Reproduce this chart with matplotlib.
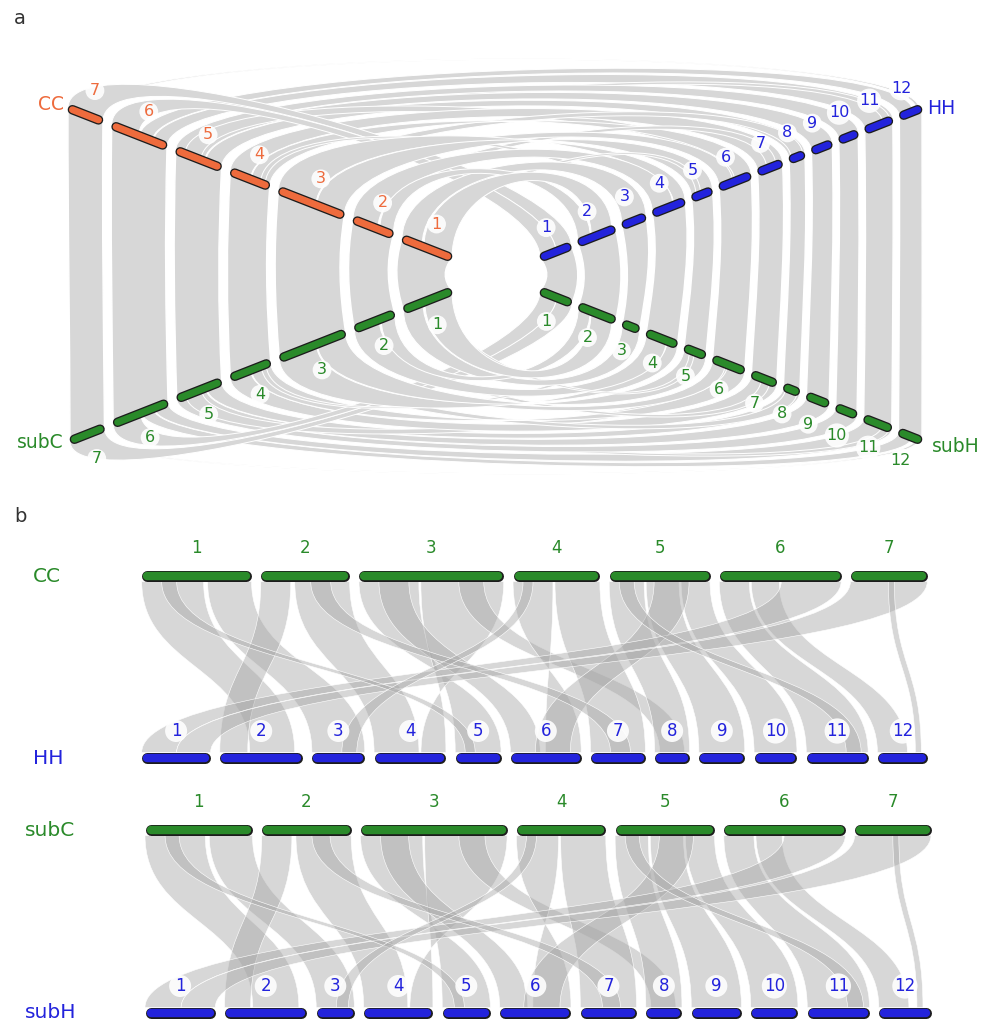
import numpy as np
import matplotlib.pyplot as plt
from matplotlib.path import Path
from matplotlib.patches import PathPatch

# chromosome sizes (Mb)
cc_len = [110, 89, 145, 87, 101, 122, 77]
hh_len = [69, 83, 53, 72, 46, 71, 55, 35, 46, 43, 62, 50]
subc_len = [107, 89, 146, 89, 99, 121, 76]
subh_len = [70, 82, 38, 69, 48, 71, 56, 36, 50, 47, 62, 52]

cc_names = ["1", "2", "3", "4", "5", "6", "7"]
hh_names = ["1", "2", "3", "4", "5", "6", "7", "8", "9", "10", "11", "12"]

# syntenic blocks: (chr_a, start, end, chr_b, start, end), Mb
cc_hh_links = [
    (1, 0, 62, 2, 30, 75),
    (1, 66, 110, 3, 0, 53),
    (2, 0, 30, 2, 0, 28),
    (2, 34, 89, 4, 0, 45),
    (3, 0, 60, 5, 46, 0),
    (3, 62, 145, 4, 72, 47),
    (3, 20, 50, 6, 0, 30),
    (3, 100, 125, 8, 5, 30),
    (4, 0, 40, 6, 71, 35),
    (4, 42, 87, 7, 0, 55),
    (5, 0, 35, 8, 0, 35),
    (5, 37, 70, 9, 0, 46),
    (5, 72, 101, 10, 0, 43),
    (5, 45, 80, 6, 25, 60),
    (6, 0, 30, 11, 0, 62),
    (6, 32, 60, 12, 0, 30),
    (6, 62, 122, 1, 0, 35),
    (7, 0, 77, 1, 35, 69),
    (2, 50, 70, 7, 20, 40),
    (5, 10, 25, 11, 40, 55),
    (1, 20, 35, 5, 10, 20),
    (4, 10, 20, 3, 30, 45),
    (7, 38, 44, 12, 38, 44),
]
subc_subh_links = [
    (1, 0, 60, 2, 28, 74),
    (1, 64, 107, 3, 0, 38),
    (2, 0, 30, 2, 0, 26),
    (2, 34, 89, 4, 0, 44),
    (3, 0, 62, 5, 48, 0),
    (3, 64, 146, 4, 69, 46),
    (3, 20, 48, 6, 0, 28),
    (3, 98, 124, 8, 5, 30),
    (4, 0, 42, 6, 71, 33),
    (4, 44, 89, 7, 0, 56),
    (5, 0, 33, 8, 0, 36),
    (5, 35, 68, 9, 0, 50),
    (5, 70, 99, 10, 0, 47),
    (5, 44, 78, 6, 24, 60),
    (6, 0, 30, 11, 0, 62),
    (6, 32, 58, 12, 0, 30),
    (6, 60, 121, 1, 0, 36),
    (7, 0, 76, 1, 36, 70),
    (2, 50, 68, 7, 22, 40),
    (5, 10, 24, 11, 40, 56),
    (1, 20, 34, 5, 12, 22),
    (4, 10, 20, 3, 20, 32),
    (7, 38, 44, 12, 38, 44),
]

ORANGE = "#ee6b3d"
GREEN = "#2a8a2a"
BLUE = "#2323dc"
GREY_A = "#d7d7d7"
GREY_B = (0.66, 0.66, 0.66, 0.45)

M, C, L, CL = Path.MOVETO, Path.CURVE4, Path.LINETO, Path.CLOSEPOLY

fig = plt.figure(figsize=(9.87, 10.26), dpi=100)
ax = fig.add_axes([0, 0, 1, 1])
ax.set_xlim(0, 987)
ax.set_ylim(1026, 0)
ax.axis("off")


def add_path(verts, codes, fc, ec, lw, z):
    ax.add_patch(PathPatch(Path(np.array(verts, float), codes), facecolor=fc,
                           edgecolor=ec, lw=lw, zorder=z))


def draw_bar(P, Q, color, w):
    P = np.array(P, float); Q = np.array(Q, float)
    u = (Q - P) / np.linalg.norm(Q - P)
    P2, Q2 = P + u * w / 2, Q - u * w / 2
    ax.plot([P2[0], Q2[0]], [P2[1], Q2[1]], color="#1c1c1c", lw=w * 0.72,
            solid_capstyle="round", zorder=5)
    ax.plot([P2[0], Q2[0]], [P2[1], Q2[1]], color=color, lw=(w - 2.6) * 0.72,
            solid_capstyle="round", zorder=6)


def num_label(x, y, s, color, size):
    ax.text(x, y, s, color=color, fontsize=size, ha="center", va="center", zorder=8,
            bbox=dict(boxstyle="circle,pad=0.12", fc="white", ec="none", alpha=0.9))


# ---------------- panel a ----------------
A_SCALE = 0.487


def diag(lengths, p_in, p_out):
    p_in = np.array(p_in, float); p_out = np.array(p_out, float)
    full = np.linalg.norm(p_out - p_in)
    u = (p_out - p_in) / full
    gap = (full - A_SCALE * sum(lengths)) / (len(lengths) - 1)
    offs = np.concatenate([[0], np.cumsum(np.array(lengths) * A_SCALE + gap)[:-1]])

    def pos(c, mb):
        return p_in + u * (offs[c - 1] + mb * A_SCALE)
    return pos, u


cc_pos, cc_u = diag(cc_len, (452, 258), (68, 108))
subc_pos, subc_u = diag(subc_len, (452, 291), (70, 441))
hh_pos, hh_u = diag(hh_len, (540, 258), (922, 108))
subh_pos, subh_u = diag(subh_len, (540, 291), (922, 441))


def side_band(pt, pbm, c, lt, lb, side):
    T1, T2, B1, B2 = pt(c, 0), pt(c, lt), pbm(c, 0), pbm(c, lb)

    def ctl(P, Q):
        d = Q[1] - P[1]
        b = side * 10 * (1 - d / 340)
        return P + np.array([b, 0.35 * d]), Q + np.array([b, -0.35 * d])
    t1, b1 = ctl(T1, B1)
    t2, b2 = ctl(T2, B2)
    add_path([T1, t1, b1, B1, B2, b2, t2, T2, T1], [M, C, C, C, L, C, C, C, CL],
             GREY_A, "white", 1.0, 1)


def arc_ribbon(pa, pb, link, sign, h_in, h_out):
    ca, s1, e1, cb, s2, e2 = link
    A1, A2, B1, B2 = pa(ca, s1), pa(ca, e1), pb(cb, s2), pb(cb, e2)

    def lift(P, Q):
        f = np.clip((abs(Q[0] - P[0]) - 90) / 760, 0, 1)
        off = np.array([0.0, sign * (h_in + (h_out - h_in) * f)])
        return P + off, Q + off
    a1, b1 = lift(A1, B1)
    a2, b2 = lift(A2, B2)
    add_path([A1, a1, b1, B1, B2, b2, a2, A2, A1], [M, C, C, C, L, C, C, C, CL],
             GREY_A, "white", 0.7, 2)


def span(pa, pb, lk):
    return abs(pb(lk[3], lk[4])[0] - pa(lk[0], lk[1])[0])


for i in range(len(cc_len)):
    side_band(cc_pos, subc_pos, i + 1, cc_len[i], subc_len[i], -1)
for i in range(len(hh_len)):
    side_band(hh_pos, subh_pos, i + 1, hh_len[i], subh_len[i], 1)
# widest arcs first so the nested ones sit on top
for lk in sorted(cc_hh_links, key=lambda k: -span(cc_pos, hh_pos, k)):
    arc_ribbon(cc_pos, hh_pos, lk, -1, 90, 70)
for lk in sorted(subc_subh_links, key=lambda k: -span(subc_pos, subh_pos, k)):
    arc_ribbon(subc_pos, subh_pos, lk, 1, 95, 48)


def diag_chroms(pos, u, lengths, color, lab_color, up):
    perp = np.array([-u[1], u[0]])
    if (perp[1] < 0) != up:
        perp = -perp
    for i, ln in enumerate(lengths):
        P, Q = pos(i + 1, 0), pos(i + 1, ln)
        draw_bar(P, Q, color, 9.5)
        mid = (P + Q) / 2 + perp * 26
        num_label(mid[0], mid[1], hh_names[i], lab_color, 11.5)


diag_chroms(cc_pos, cc_u, cc_len, ORANGE, ORANGE, True)
diag_chroms(subc_pos, subc_u, subc_len, GREEN, GREEN, False)
diag_chroms(hh_pos, hh_u, hh_len, BLUE, BLUE, True)
diag_chroms(subh_pos, subh_u, subh_len, GREEN, GREEN, False)

ax.text(64, 104, "CC", color=ORANGE, fontsize=13.5, ha="right", va="center")
ax.text(64, 443, "subC", color=GREEN, fontsize=13.5, ha="right", va="center")
ax.text(927, 108, "HH", color=BLUE, fontsize=13.5, ha="left", va="center")
ax.text(932, 447, "subH", color=GREEN, fontsize=13.5, ha="left", va="center")

# ---------------- panel b ----------------
BAR_W = 11


def row(lengths, x0, x1, gap=9.3):
    sc = (x1 - x0 - gap * (len(lengths) - 1)) / sum(lengths)
    offs = x0 + np.concatenate([[0], np.cumsum(np.array(lengths) * sc + gap)[:-1]])
    return lambda c, mb: offs[c - 1] + mb * sc


def row_ribbon(pa, pb, link, y_top, y_bot):
    ca, s1, e1, cb, s2, e2 = link
    xa1, xa2, xb1, xb2 = pa(ca, s1), pa(ca, e1), pb(cb, s2), pb(cb, e2)
    ym = (y_top + y_bot) / 2
    verts = [(xa1, y_top), (xa1, ym), (xb1, ym), (xb1, y_bot), (xb2, y_bot),
             (xb2, ym), (xa2, ym), (xa2, y_top), (xa1, y_top)]
    add_path(verts, [M, C, C, C, L, C, C, C, CL], GREY_B, "white", 0.4, 2)


def draw_row(pos, lengths, y, color, names, name_y, name_color):
    for i, ln in enumerate(lengths):
        x0, x1 = pos(i + 1, 0), pos(i + 1, ln)
        draw_bar((x0, y), (x1, y), color, BAR_W)
        num_label((x0 + x1) / 2, name_y, names[i], name_color, 12)


rows = [
    (cc_len, hh_len, cc_hh_links, 141.7, 927.3, 576, 758, "CC", "HH", 33),
    (subc_len, subh_len, subc_subh_links, 145, 931, 830, 1013, "subC", "subH", 25),
]
for top_len, bot_len, links, x0, x1, yt, yb, tname, bname, lx in rows:
    pt = row(top_len, x0, x1)
    pb = row(bot_len, x0, x1)
    for lk in links:
        row_ribbon(pt, pb, lk, yt + BAR_W / 2, yb - BAR_W / 2)
    draw_row(pt, top_len, yt, GREEN, cc_names, yt - 28, GREEN)
    draw_row(pb, bot_len, yb, BLUE, hh_names, yb - 27, BLUE)
    ax.text(lx, yt, tname, color=GREEN, fontsize=14.5, ha="left", va="center")
    ax.text(lx, yb, bname, color=BLUE, fontsize=14.5, ha="left", va="center")

ax.text(14, 18, "a", color="#333333", fontsize=14, ha="left", va="center")
ax.text(14, 517, "b", color="#333333", fontsize=14, ha="left", va="center")

fig.savefig("out.png", dpi=100, facecolor="white")
